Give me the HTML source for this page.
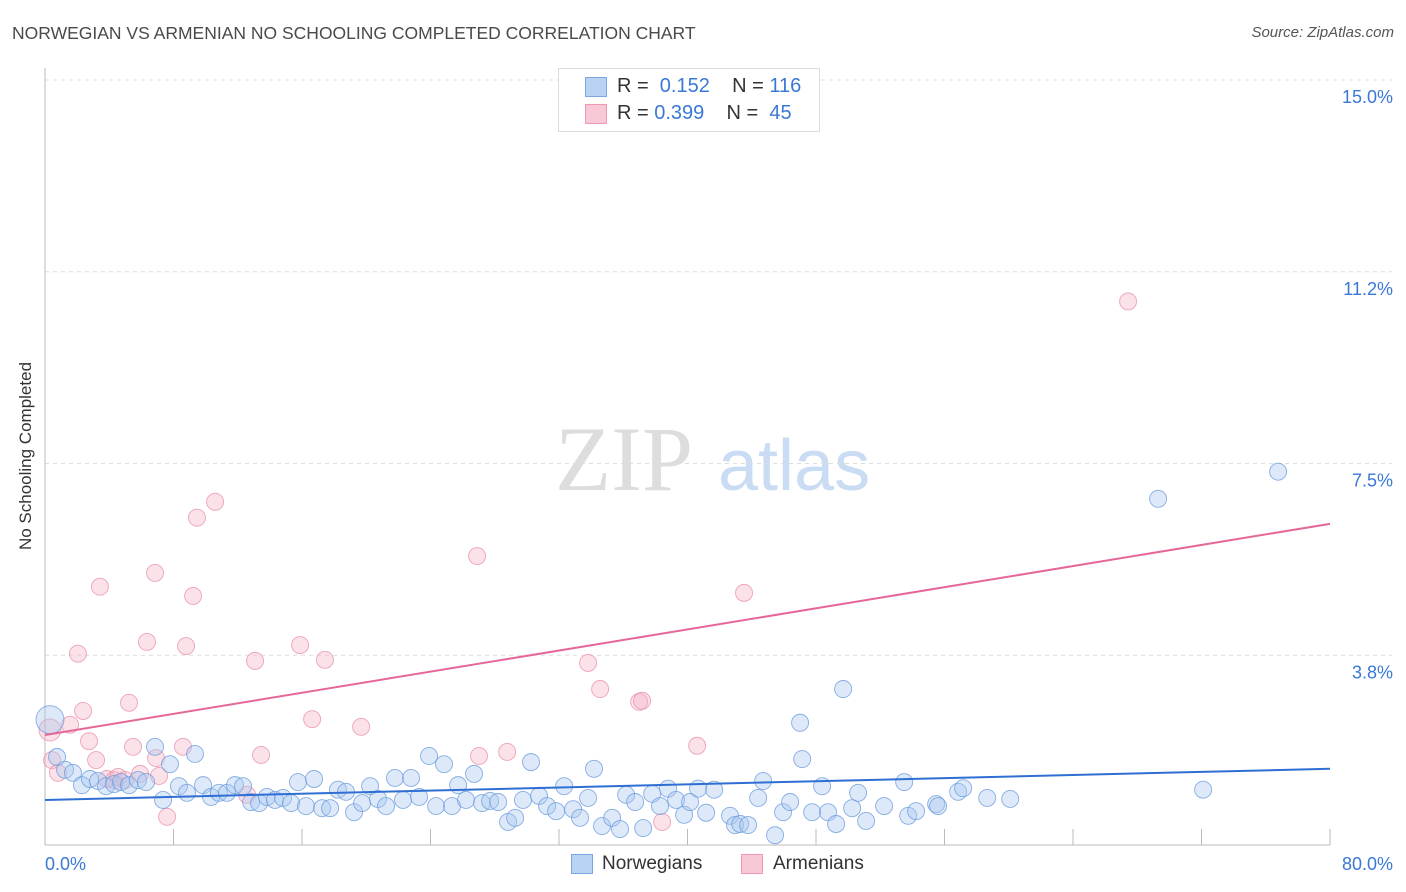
<!DOCTYPE html>
<html><head><meta charset="utf-8"><style>
body{margin:0;background:#fff;font-family:"Liberation Sans",sans-serif;}
#wrap{position:relative;width:1406px;height:892px;overflow:hidden;}
.t{position:absolute;white-space:nowrap;}
</style></head><body>
<div id="wrap">
<div class="t" style="left:12px;top:23px;font-size:17.5px;color:#4a4a4a;">NORWEGIAN VS ARMENIAN NO SCHOOLING COMPLETED CORRELATION CHART</div>
<div class="t" style="right:12px;top:24px;font-size:15px;color:#555;font-style:italic;">Source: ZipAtlas.com</div>
<div class="t" style="left:26px;top:456px;font-size:17px;color:#333;transform:translate(-50%,-50%) rotate(-90deg);">No Schooling Completed</div>
<svg id="svg" width="1406" height="892" style="position:absolute;left:0;top:0"></svg>
<div style="position:absolute;left:558px;top:68px;width:260px;height:62px;border:1px solid #ddd;background:#fff;font-size:20px;">
 <div style="position:absolute;left:26px;top:6px;"><span style="position:absolute;left:0;top:2px;width:20px;height:18px;background:#b9d3f5;border:1px solid #7aa7e0;"></span><span class="t" style="left:32px;color:#333">R = <span style="color:#3a78d6">&nbsp;0.152</span>&nbsp;&nbsp;&nbsp; N = <span style="color:#3a78d6">116</span></span></div>
 <div style="position:absolute;left:26px;top:33px;"><span style="position:absolute;left:0;top:2px;width:20px;height:18px;background:#f8c8d6;border:1px solid #ec9ab2;"></span><span class="t" style="left:32px;color:#333">R = <span style="color:#3a78d6">0.399</span>&nbsp;&nbsp;&nbsp; N = <span style="color:#3a78d6">&nbsp;45</span></span></div>
</div>
<div>
 <span style="position:absolute;left:571px;top:854px;width:20px;height:18px;background:#b9d3f5;border:1px solid #7aa7e0;"></span>
 <div class="t" style="left:602px;top:853px;font-size:19px;color:#333">Norwegians</div>
 <span style="position:absolute;left:741px;top:854px;width:20px;height:18px;background:#f8c8d6;border:1px solid #ec9ab2;"></span>
 <div class="t" style="left:773px;top:853px;font-size:19px;color:#333">Armenians</div>
</div>
</div>
<script>
const yTicks=[15,11.25,7.5,3.75];
const yTickLabels=["15.0%","11.2%","7.5%","3.8%"];
const xTicks=[0,8,16,24,32,40,48,56,64,72,80];
const xEndLabels=["0.0%","80.0%"];
const blueX=[.31,.75,1.25,1.74,2.30,2.80,3.30,3.80,4.30,4.73,5.23,5.79,6.29,6.85,7.35,7.78,8.34,8.84,9.34,9.84,10.34,10.83,11.33,11.83,12.33,12.83,13.33,13.82,14.32,14.82,15.32,15.75,16.25,16.75,17.25,17.75,18.24,18.74,19.24,19.74,20.24,20.73,21.23,21.79,22.29,22.79,23.29,23.91,24.35,24.84,25.34,25.72,26.21,26.71,27.21,27.71,28.21,28.83,29.27,29.76,30.26,30.76,31.26,31.82,32.32,32.88,33.31,33.81,34.18,34.68,35.31,35.80,36.18,36.74,37.24,37.80,38.29,38.79,39.29,39.79,40.16,40.66,41.16,41.66,42.65,42.96,43.28,43.77,44.40,44.71,45.45,45.95,46.39,47.01,47.14,47.76,48.38,48.75,49.25,49.69,50.25,50.62,51.12,52.24,53.49,53.74,54.23,55.48,55.60,56.85,57.16,58.66,60.09,69.30,72.10,76.77];
const blueY=[2.49,1.76,1.51,1.45,1.21,1.33,1.29,1.19,1.23,1.27,1.21,1.31,1.27,1.96,.92,1.62,1.19,1.06,1.82,1.21,.98,1.06,1.06,1.21,1.19,.88,.86,.98,.92,.96,.86,1.27,.80,1.33,.76,.76,1.12,1.08,.68,.86,1.19,.94,.80,1.35,.92,1.35,.98,1.78,.80,1.62,.80,1.21,.92,1.43,.86,.90,.88,.49,.57,.92,1.66,1.00,.80,.70,1.19,.74,.57,.96,1.53,.41,.57,.35,1.02,.88,.37,1.04,.80,1.14,.92,.63,.88,1.14,.67,1.12,.61,.43,.45,.43,.96,1.29,.23,.68,.88,2.43,1.72,.68,1.19,.68,.45,3.09,.76,1.06,.51,.80,1.27,.61,.70,.84,.80,1.08,1.15,.96,.94,6.81,1.12,7.34];
const pinkX=[.31,.44,.81,1.56,2.05,2.37,2.74,3.18,3.42,3.86,4.30,4.55,4.98,5.23,5.48,5.92,6.35,6.85,6.91,7.10,7.60,8.59,8.78,9.22,9.46,10.59,12.58,13.08,13.45,15.88,16.63,17.43,19.68,26.90,27.02,28.77,33.81,34.56,36.99,37.17,38.42,40.60,43.52,67.43];
const pinkY=[2.29,1.70,1.45,2.39,3.78,2.66,2.07,1.70,5.09,1.33,1.31,1.37,1.31,2.82,1.96,1.43,4.01,5.36,1.74,1.39,.59,1.96,3.93,4.91,6.44,6.75,1.02,3.64,1.80,3.95,2.50,3.66,2.35,5.69,1.78,1.86,3.60,3.09,2.84,2.86,.49,1.98,4.97,10.67];
const blueTrend=[0.92,1.53];
const pinkTrend=[2.19,6.32];
const X0=45,X1=1330,Y0=847,YT=80;
const sx=v=>X0+(X1-X0)*v/80;
const sy=v=>Y0-(Y0-YT)*v/15;
const svg=document.getElementById('svg');
const NS='http://www.w3.org/2000/svg';
function mk(tag,attrs){const e=document.createElementNS(NS,tag);for(const k in attrs)e.setAttribute(k,attrs[k]);svg.appendChild(e);return e;}
let wm=mk('text',{x:555,y:490,'font-size':92,fill:'#ddd','font-family':'Liberation Serif, serif'});wm.textContent='ZIP';


let wm2=mk('text',{x:718,y:490,'font-size':72,fill:'#c9dcf3','font-family':'Liberation Sans, sans-serif'});wm2.textContent='atlas';


yTicks.forEach((v,i)=>{
 const l=mk('line',{x1:X0,x2:1392,y1:sy(v),y2:sy(v),stroke:'#ddd','stroke-dasharray':'4,4'});
 
 
 const t=mk('text',{x:1393,y:sy(v)+23,'text-anchor':'end','font-size':18,fill:'#3a78d6','font-family':'Liberation Sans, sans-serif'});
 t.textContent=yTickLabels[i];
 
 
});
let ax=mk('line',{x1:X0,x2:X0,y1:68,y2:845,stroke:'#bbb'});


let bx=mk('line',{x1:X0,x2:X1,y1:845,y2:845,stroke:'#bbb'});


xTicks.forEach(v=>{
 const l=mk('line',{x1:sx(v),x2:sx(v),y1:829,y2:845,stroke:'#bbb'});
 
 
});
[[0,'start',45],[80,'end',1393]].forEach((a,i)=>{
 const t=mk('text',{x:a[2],y:870,'text-anchor':a[1],'font-size':18,fill:'#3a78d6','font-family':'Liberation Sans, sans-serif'});
 t.textContent=xEndLabels[i];
 
 
});
function pts(xs,ys,fill,stroke,name){
 xs.forEach((x,i)=>{
  const r=(i===0)?(name==='norwegian-point'?14:11):8.5;
  const c=mk('circle',{cx:sx(x),cy:sy(ys[i]),r:r,fill:fill,stroke:stroke,'stroke-width':0.9,'fill-opacity':0.4,'stroke-opacity':0.8});
  
  
 });
}
pts(pinkX,pinkY,'#f5b3c6','#e890aa','armenian-point');
pts(blueX,blueY,'#a9c8f0','#6a9bdc','norwegian-point');
let bl=mk('line',{x1:sx(0),x2:sx(80),y1:sy(blueTrend[0]),y2:sy(blueTrend[1]),stroke:'#2f6fd4','stroke-width':2});


let pl=mk('line',{x1:sx(0),x2:sx(80),y1:sy(pinkTrend[0]),y2:sy(pinkTrend[1]),stroke:'#e5679a','stroke-width':2});


</script>
</body></html>
